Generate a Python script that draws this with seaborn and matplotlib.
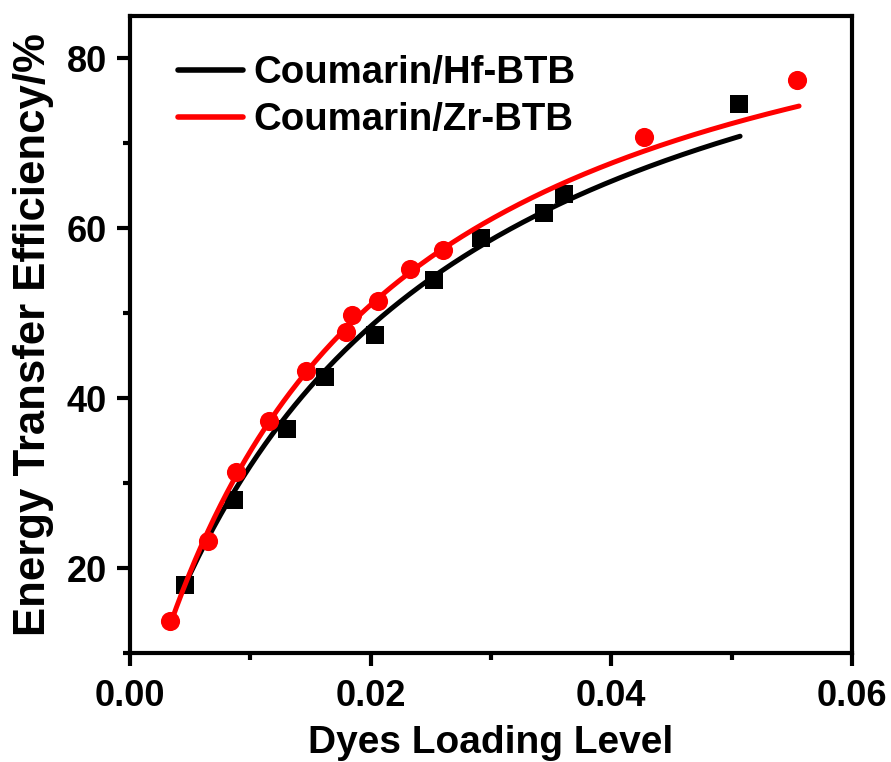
import numpy as np
import pandas as pd
import matplotlib
matplotlib.use("Agg")
import matplotlib.pyplot as plt
import seaborn as sns

# ---- data ----
hf_x = [0.00458, 0.00865, 0.01306, 0.01622, 0.02038, 0.02529, 0.0292, 0.03444, 0.0361, 0.0506]
hf_y = [18.0, 28.0, 36.35, 42.5, 47.5, 53.9, 58.9, 61.8, 64.1, 74.6]

zr_x = [0.00333, 0.0065, 0.00882, 0.01156, 0.01464, 0.01797, 0.01847, 0.02063, 0.0233, 0.026, 0.04268, 0.0554]
zr_y = [13.8, 23.2, 31.3, 37.3, 43.2, 47.8, 49.8, 51.5, 55.2, 57.4, 70.8, 77.5]

# fitted curves as drawn in the figure
hf_fit_x = [0.0046, 0.00998, 0.01304, 0.0163, 0.02038, 0.0253, 0.02918, 0.03453, 0.04299, 0.0507]
hf_fit_y = [18.0, 32.9, 37.2, 43.1, 48.6, 54.5, 58.6, 62.3, 67.2, 70.5]

zr_fit_x = [0.00333, 0.00638, 0.00887, 0.0115, 0.01464, 0.0183, 0.02066, 0.02335, 0.026, 0.02995, 0.03605, 0.0427, 0.0502, 0.0556]
zr_fit_y = [13.8, 22.9, 31.3, 37.2, 43.1, 49.6, 51.4, 55.1, 57.3, 60.9, 65.3, 68.8, 72.7, 74.4]

labels = ["Coumarin/Hf-BTB", "Coumarin/Zr-BTB"]
colors = ["#000000", "#ff0000"]
x_ticks = [0.00, 0.02, 0.04, 0.06]
y_ticks = [20, 40, 60, 80]


def smooth_fit(xs, ys):
    """Least-squares fit of E = C + A*x/(B+x) to the sampled curve."""
    xs = np.asarray(xs); ys = np.asarray(ys)
    best = None
    for B in np.linspace(0.002, 0.08, 800):
        M = np.column_stack([xs / (B + xs), np.ones_like(xs)])
        coef, *_ = np.linalg.lstsq(M, ys, rcond=None)
        err = np.sum((M @ coef - ys) ** 2)
        if best is None or err < best[0]:
            best = (err, B, coef)
    _, B, (A, C) = best
    xx = np.linspace(xs.min(), xs.max(), 300)
    return xx, C + A * xx / (B + xx)


sns.set_theme(style="ticks")
plt.rcParams["font.family"] = ["Liberation Sans", "DejaVu Sans"]
plt.rcParams["font.weight"] = "bold"
for k in ["text.color", "axes.labelcolor", "xtick.color", "ytick.color", "axes.edgecolor"]:
    plt.rcParams[k] = "black"

fig = plt.figure(figsize=(8.91, 7.62), dpi=100)
ax = fig.add_axes([130 / 891, 1 - 653 / 762, (852 - 130) / 891, (653 - 16) / 762])

hf_df = pd.DataFrame({"x": hf_x, "y": hf_y})
zr_df = pd.DataFrame({"x": zr_x, "y": zr_y})

hx, hy = smooth_fit(hf_fit_x, hf_fit_y)
zx, zy = smooth_fit(zr_fit_x, zr_fit_y)

sns.scatterplot(data=hf_df, x="x", y="y", ax=ax, marker="s", s=150, color=colors[0],
                edgecolor=colors[0], linewidth=0, zorder=3)
sns.lineplot(x=hx, y=hy, ax=ax, color=colors[0], linewidth=3.6, label=labels[0], zorder=4)
sns.scatterplot(data=zr_df, x="x", y="y", ax=ax, marker="o", s=190, color=colors[1],
                edgecolor=colors[1], linewidth=0, zorder=5)
sns.lineplot(x=zx, y=zy, ax=ax, color=colors[1], linewidth=3.6, label=labels[1], zorder=6)

ax.set_xlim(0, 0.06)
ax.set_ylim(10, 85)
ax.set_xticks(x_ticks)
ax.set_xticklabels([f"{t:.2f}" for t in x_ticks])
ax.set_yticks(y_ticks)
ax.set_xticks([0.01, 0.03, 0.05], minor=True)
ax.set_yticks([10, 30, 50, 70], minor=True)

for sp in ax.spines.values():
    sp.set_linewidth(3.0)
    sp.set_visible(True)
    sp.set_color("black")
ax.tick_params(axis="both", which="major", direction="out", length=9.5, width=3.0,
               labelsize=26, pad=7, colors="black")
ax.tick_params(axis="x", which="major", pad=9)
ax.tick_params(axis="both", which="minor", direction="out", length=5, width=3.0, colors="black")
for lab in ax.get_xticklabels() + ax.get_yticklabels():
    lab.set_fontweight("bold")

ax.set_xlabel("Dyes Loading Level", fontsize=28, fontweight="bold", labelpad=8)
ax.set_ylabel("Energy Transfer Efficiency/%", fontsize=31.5, fontweight="bold", labelpad=9)

leg = ax.legend(loc="upper left", bbox_to_anchor=(0.035, 0.975), frameon=False,
                prop={"size": 27.6, "weight": "bold"}, handlelength=1.7,
                handletextpad=0.25, labelspacing=0.30, borderaxespad=0.2)
for line in leg.get_lines():
    line.set_linewidth(4.0)
for t in leg.get_texts():
    t.set_color("black")

fig.savefig("out.png", dpi=100)
